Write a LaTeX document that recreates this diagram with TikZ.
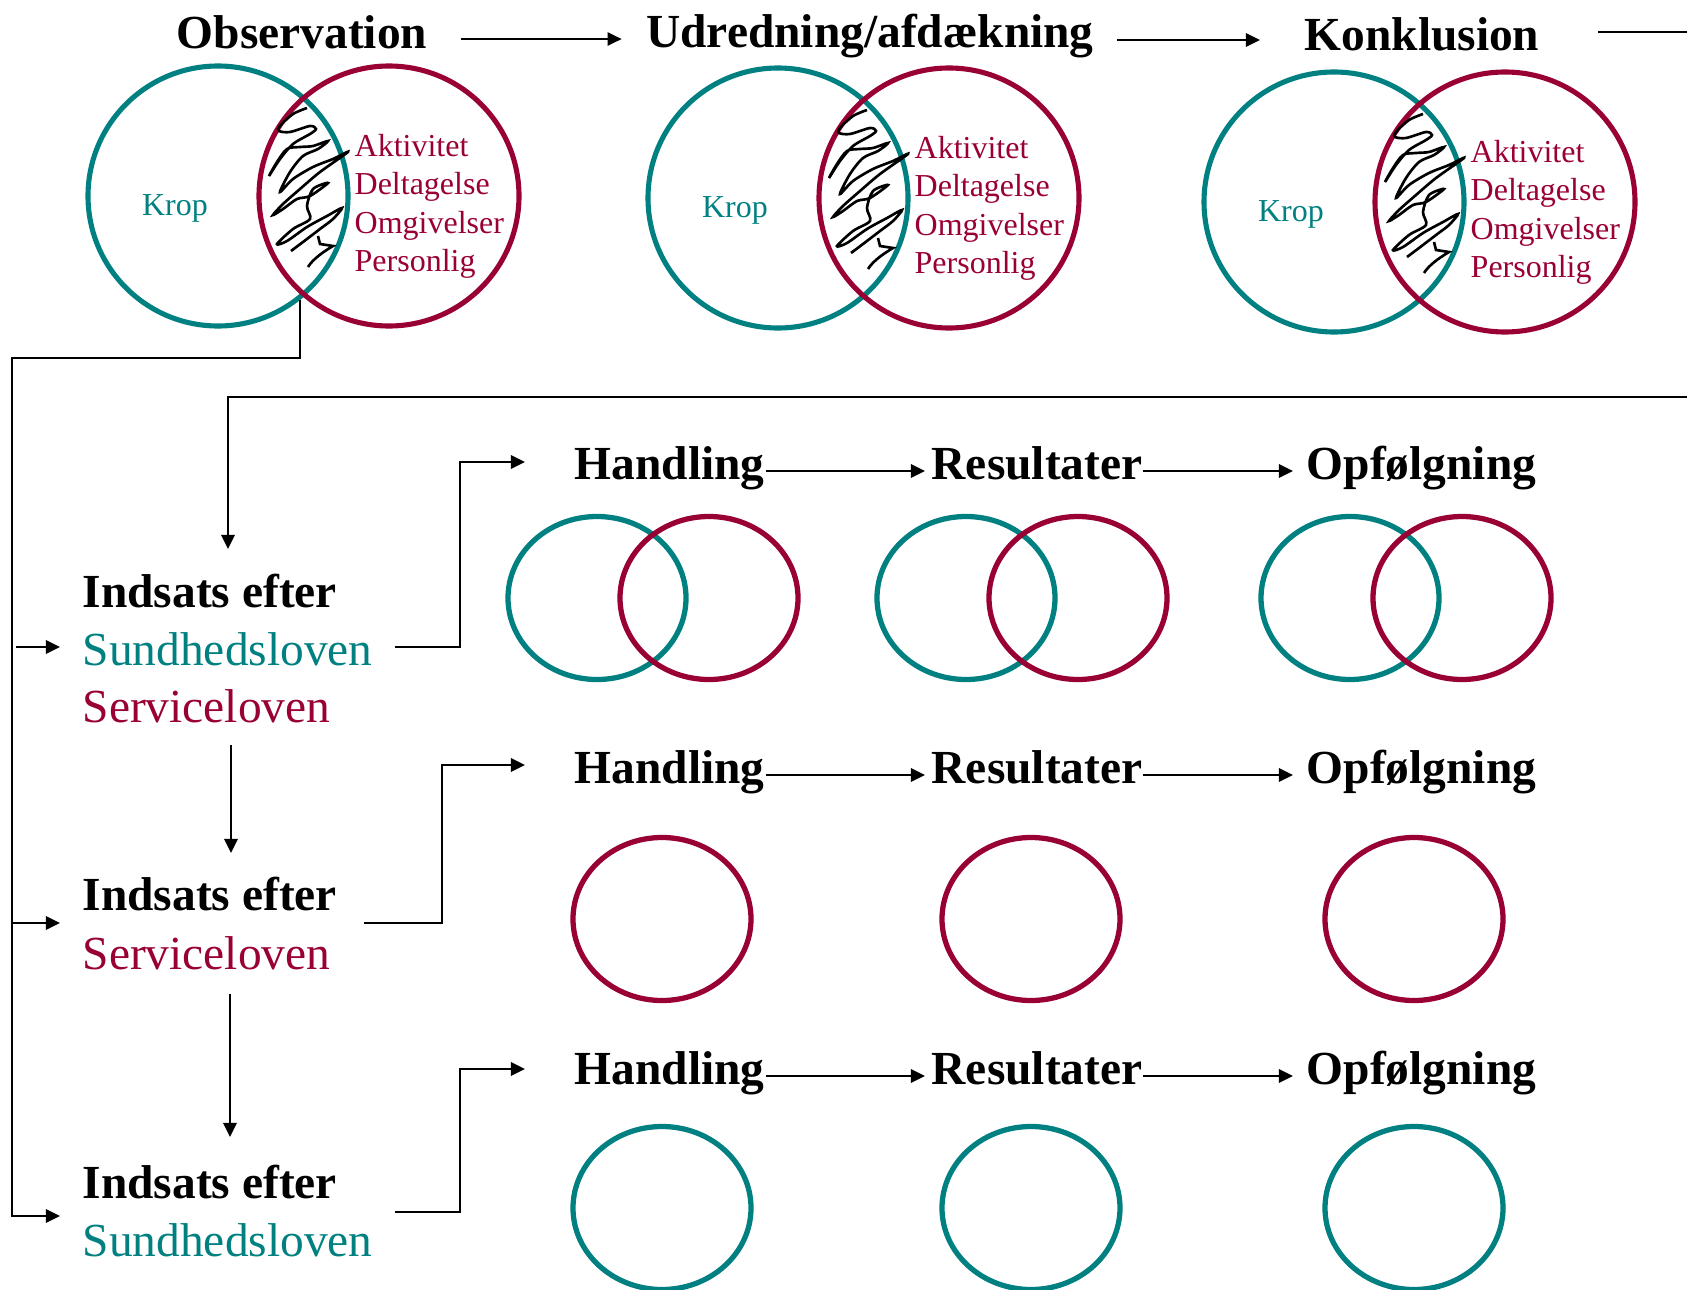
\documentclass[tikz,border=0pt]{standalone}
\usepackage{fontspec}
\setmainfont{Liberation Serif}
\usetikzlibrary{arrows.meta,calc,shapes.geometric}
\definecolor{kropteal}{HTML}{008080}
\definecolor{lovred}{HTML}{990033}

\begin{document}
\begin{tikzpicture}[x=0.1mm, y=-0.1mm,
  every node/.style={inner sep=0pt},
  head/.style={font=\fontsize{13.5}{16}\selectfont\bfseries},
  law/.style={font=\fontsize{13.5}{16}\selectfont},
  small/.style={font=\fontsize{9.1}{11}\selectfont},
  ring/.style={circle, line width=1.45pt, minimum size=26mm},
  lens/.style={ellipse, line width=1.5pt, minimum width=17.8mm, minimum height=16.3mm},
  link/.style={line width=0.6pt},
  arr/.style={line width=0.6pt, -{Triangle[length=4pt,width=3.8pt]}}]
  \useasboundingbox (0,0) rectangle (1687,1289);

  \node[head, anchor=base] (obs) at (302,48) {Observation};
  \node[head, anchor=base] (udr) at (870,47) {Udredning/afdækning};
  \node[head, anchor=base] (konk) at (1422,50) {Konklusion};
  \coordinate (edgeA) at (1687,32);
  \coordinate (edgeB) at (1687,397);

  \draw[arr] ($(obs.base east)+(33,-9)$) -- ($(udr.base west)+(-24,-8)$);
  \draw[arr] ($(udr.base east)+(23,-7)$) -- ($(konk.base west)+(-44,-10)$);
  \draw[link] ($(konk.base east)+(58,-18)$) -- (edgeA);

  % the three venn diagrams
  \foreach \i/\x/\y in {1/218/196, 2/778/198, 3/1334/202} {
    \node[ring, draw=kropteal] (t\i) at (\x,\y) {};
    \node[ring, draw=lovred] (r\i) at (\x+171,\y) {};
    \node[small, text=kropteal, anchor=base] (krop\i) at ($(t\i)+(-43,19)$) {Krop};
    \foreach \lbl/\dy in {Aktivitet/-40, Deltagelse/-2, Omgivelser/37, Personlig/75}
      \node[small, text=lovred, anchor=base west] at ($(r\i)+(-35,\dy)$) {\lbl};
    \draw[line width=0.75pt, shift={(r\i)}] plot[smooth, tension=0.5] coordinates {
      (-82,-88) (-96,-82) (-109,-70) (-110,-65) (-99,-64) (-79,-70) (-73,-67)
      (-79,-62) (-96,-52) (-109,-37) (-120,-20) (-112,-34) (-102,-47) (-89,-49)
      (-76,-50) (-61,-55) (-71,-47) (-86,-40) (-99,-24) (-109,-4) (-96,-17)
      (-76,-29) (-56,-37) (-41,-44) (-69,-24) (-89,-7) (-106,8) (-116,19)
      (-106,13) (-92,3) (-79,0) (-61,-13) (-76,-7) (-82,10) (-79,23) (-96,33)
      (-112,48) (-102,45) (-82,31) (-62,20) (-47,12) (-56,23) (-69,33) (-86,46)
      (-98,55)};
    \draw[line width=0.75pt, shift={(r\i)}] (-71,40) -- (-69,48) -- (-56,50)
      .. controls (-66,56) and (-76,63) .. (-81,71);
  }

  % actions
  \node[head, anchor=base west] (ind1) at (82,607) {Indsats efter};
  \node[law, text=kropteal, anchor=base west] (sund1) at (82,665) {Sundhedsloven};
  \node[law, text=lovred, anchor=base west] (serv1) at (82,722) {Serviceloven};
  \node[head, anchor=base west] (ind2) at (82,910) {Indsats efter};
  \node[law, text=lovred, anchor=base west] (serv2) at (82,969) {Serviceloven};
  \node[head, anchor=base west] (ind3) at (82,1198) {Indsats efter};
  \node[law, text=kropteal, anchor=base west] (sund3) at (82,1256) {Sundhedsloven};

  \foreach \b [count=\k] in {479, 783, 1084} {
    \node[head, anchor=base west] (hand\k) at (574,\b) {Handling};
    \node[head, anchor=base west] (res\k) at (931,\b) {Resultater};
    \node[head, anchor=base west] (opf\k) at (1306,\b) {Opfølgning};
    \draw[arr] ($(hand\k.base east)+(1,-8)$) -- ($(res\k.base west)+(-6,-8)$);
    \draw[arr] ($(res\k.base east)+(0,-8)$) -- ($(opf\k.base west)+(-13,-8)$);
  }

  \foreach \x [count=\k] in {597, 966, 1350} {
    \node[lens, draw=kropteal] (pt\k) at (\x,598) {};
    \node[lens, draw=lovred] (pr\k) at (\x+112,598) {};
  }
  \foreach \x [count=\k] in {662, 1031, 1414} {
    \node[lens, draw=lovred] (sr\k) at (\x,919) {};
    \node[lens, draw=kropteal] (st\k) at (\x,1208) {};
  }

  % connectors
  \draw[arr] (t1.-52.5) |- ($(ind1.base west)+(-70,-249)$) |- ($(ind3.base west)+(-22,18)$);
  \draw[arr] ($(sund1.base west)+(-66,-18)$) -- ($(sund1.base west)+(-22,-18)$);
  \draw[arr] ($(ind2.base west)+(-70,13)$) -- ($(ind2.base west)+(-22,13)$);
  \draw[arr] (edgeB) -| ($(ind1.base west)+(146,-58)$);

  \draw[arr] ($(sund1.base east)+(22,-18)$) -| ($(hand1.base west)+(-114,-17)$) -- ($(hand1.base west)+(-49,-17)$);
  \draw[arr] ($(ind2.base east)+(26,13)$) -| ($(hand2.base west)+(-132,-18)$) -- ($(hand2.base west)+(-49,-18)$);
  \draw[arr] ($(sund3.base east)+(22,-44)$) -| ($(hand3.base west)+(-114,-15)$) -- ($(hand3.base west)+(-49,-15)$);

  \draw[arr] ($(serv1.base west)+(149,23)$) -- ($(ind2.base west)+(149,-57)$);
  \draw[arr] ($(serv2.base west)+(148,25)$) -- ($(ind3.base west)+(148,-61)$);
\end{tikzpicture}
\end{document}
